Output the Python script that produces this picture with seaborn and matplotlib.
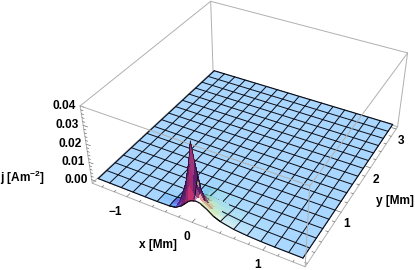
"""Current density peak j(x, y), surface plot."""
import numpy as np
import matplotlib
matplotlib.use('Agg')
import matplotlib.pyplot as plt
import seaborn as sns
from mpl_toolkits.mplot3d import proj3d

sns.set_theme(style='white')
plt.rcParams['font.family'] = ['Liberation Sans', 'DejaVu Sans']
plt.rcParams['mathtext.fontset'] = 'custom'
plt.rcParams['mathtext.rm'] = 'Liberation Sans'
plt.rcParams['mathtext.bf'] = 'Liberation Sans:bold'

# ─── Data ────────────────────────────────────────────────────
x_mesh = [-1.5, -1.3125, -1.125, -0.9375, -0.75, -0.5625, -0.375, -0.1875, 0,
          0.1875, 0.375, 0.5625, 0.75, 0.9375, 1.125, 1.3125, 1.5]
y_mesh = [0, 0.1875, 0.375, 0.5625, 0.75, 0.9375, 1.125, 1.3125, 1.5,
          1.6875, 1.875, 2.0625, 2.25, 2.4375, 2.625, 2.8125, 3]

# finer samples around the peak, j in units of 1e-3 A/m2
x_peak = [-0.5625, -0.375, -0.28, -0.1875, -0.12, -0.08, -0.04, 0, 0.04, 0.09,
          0.1875, 0.28, 0.375, 0.5625, 0.75, 0.9375]
y_peak = [0, 0.04, 0.08, 0.12, 0.1875, 0.28, 0.375, 0.5625]
j_y000 = [0, 0.2, 0.8, 3.0, 5.5, 7.0, 8.0, 8.5, 8.8, 8.5, 6.5, 4.0, 2.5, 1.0, 0.4, 0.1]
j_y004 = [0, 0.2, 1.0, 5.5, 11, 16, 13, 11, 10, 8.0, 5.6, 3.6, 2.3, 0.9, 0.4, 0.1]
j_y008 = [0, 0.3, 1.5, 9.0, 18, 26, 20, 15, 11, 7.5, 4.6, 3.0, 2.1, 0.8, 0.3, 0.1]
j_y012 = [0, 0.3, 2.0, 12, 25, 36, 27, 19, 12, 6.5, 3.6, 2.5, 1.9, 0.7, 0.3, 0.1]
j_y019 = [0, 0.1, 0.8, 5.0, 10, 14, 11, 8.0, 6.0, 4.0, 2.5, 1.8, 1.3, 0.5, 0.2, 0.05]
j_y028 = [0, 0, 0.2, 0.8, 2.0, 3.0, 3.5, 3.0, 2.6, 2.0, 1.5, 1.0, 0.7, 0.3, 0.1, 0]
j_y038 = [0, 0, 0.1, 0.3, 0.7, 1.0, 1.2, 1.1, 1.0, 0.8, 0.6, 0.4, 0.3, 0.1, 0, 0]
j_y056 = [0, 0, 0, 0.05, 0.1, 0.15, 0.2, 0.2, 0.2, 0.15, 0.1, 0.1, 0.05, 0, 0, 0]

x_ticks = [-1, 0, 1]
y_ticks = [1, 2, 3]
z_ticks = [0.00, 0.01, 0.02, 0.03, 0.04]
x_limits = (-1.56, 1.56)
y_limits = (-0.06, 3.06)
z_limits = (-0.002, 0.04)

# ─── Full table on the union of the mesh and peak samples ────
x_nodes = np.array(sorted(set(x_mesh) | set(x_peak)))
y_nodes = np.array(sorted(set(y_mesh) | set(y_peak)))
rows = [j_y000, j_y004, j_y008, j_y012, j_y019, j_y028, j_y038, j_y056]
J = np.zeros((len(y_nodes), len(x_nodes)))
for yv, row in zip(y_peak, rows):
    for xv, val in zip(x_peak, row):
        J[np.searchsorted(y_nodes, yv), np.searchsorted(x_nodes, xv)] = val * 1e-3
X, Y = np.meshgrid(x_nodes, y_nodes)

# ─── Camera ──────────────────────────────────────────────────
ELEV, AZIM, FOCAL, BOX_Z = 36.08, -61.43, 0.4396, 0.4018
SCALE, TX, TY = 1793.2, 251.94, 117.2
W_PX, H_PX = 415, 270

fig = plt.figure(figsize=(W_PX / 100, H_PX / 100), dpi=100)
ax = fig.add_axes([0, 0, 1, 1], projection='3d', computed_zorder=False)
x0, x1 = ax.viewLim.intervalx
y0, y1 = ax.viewLim.intervaly
ax.set_position([(TX + SCALE * x0) / W_PX, (H_PX - TY + SCALE * y0) / H_PX,
                 SCALE * (x1 - x0) / W_PX, SCALE * (y1 - y0) / H_PX])
ax.set_xlim(*x_limits, view_margin=0)
ax.set_ylim(*y_limits, view_margin=0)
ax.set_zlim(*z_limits, view_margin=0)
ax.view_init(ELEV, AZIM)
ax.set_proj_type('persp', focal_length=FOCAL)
ax.set_box_aspect((1, 1, BOX_Z))
ax.set_axis_off()

# ─── Lighting, three coloured lights plus ambient ────────────
PINK = np.array([196, 48, 112]) / 255
PURPLE = np.array([92, 30, 108]) / 255

xb_nodes = (x_nodes - x_limits[0]) / (x_limits[1] - x_limits[0])
yb_nodes = (y_nodes - y_limits[0]) / (y_limits[1] - y_limits[0])
zb_table = (J - z_limits[0]) / (z_limits[1] - z_limits[0]) * BOX_Z
gy, gx = np.gradient(zb_table, yb_nodes, xb_nodes)
normals = np.dstack([-gx, -gy, np.ones_like(gx)])
normals /= np.linalg.norm(normals, axis=2, keepdims=True)


def face_colors(ix, iy):
    """Colours of the cells of the sub grid, from the smoothed normals."""
    n = normals[np.ix_(iy, ix)]
    n = (n[1:, 1:] + n[:-1, :-1] + n[1:, :-1] + n[:-1, 1:]) / 4
    n = n / np.linalg.norm(n, axis=2, keepdims=True)
    el, az = np.radians(ELEV), np.radians(AZIM)
    right = np.array([-np.sin(az), np.cos(az), 0])
    up = np.array([-np.sin(el) * np.cos(az), -np.sin(el) * np.sin(az), np.cos(el)])
    back = np.array([np.cos(el) * np.cos(az), np.cos(el) * np.sin(az), np.sin(el)])
    cam = np.dstack([n @ right, n @ up, n @ back])
    lights = np.array([[1.5, -0.5, 2], [1.5, 1.5, 2], [-0.5, 1.5, 2]], float)
    lights /= np.linalg.norm(lights, axis=1, keepdims=True)
    ambient = np.array([0.312, 0.188, 0.4])
    rgb = ambient + 0.8 * np.clip(cam @ lights.T, 0, None)
    rgb = rgb * np.array([1.2, 1.0, 0.87])
    # steep walls: pink where they face the viewer, purple on the flanks
    steep = np.clip((0.75 - n[..., 2:3]) / 0.45, 0, 1)
    side = np.clip(np.abs(n[..., 0:1]) * 1.5, 0, 1)
    wall = PINK * (1 - side) + PURPLE * side
    rgb = rgb * (1 - steep) + wall * steep
    return np.clip(np.dstack([rgb, np.ones(rgb.shape[:2])]), 0, 1)


def surface(ix, iy, z):
    ax.plot_surface(X[np.ix_(iy, ix)], Y[np.ix_(iy, ix)], J[np.ix_(iy, ix)],
                    facecolors=face_colors(ix, iy), rstride=1, cstride=1,
                    shade=False, linewidth=0, antialiased=False, zorder=z)


def mesh_x(xv, z, ymax=None, lw=0.7):
    i = np.searchsorted(x_nodes, xv)
    keep = y_nodes <= (ymax if ymax is not None else y_nodes[-1])
    ax.plot(X[keep, i], Y[keep, i], J[keep, i], color='#0c0c14', lw=lw, zorder=z,
            solid_capstyle='round', clip_on=False)


def mesh_y(yv, z, xmin=None, xmax=None, lw=0.7):
    i = np.searchsorted(y_nodes, yv)
    lo = x_nodes[0] if xmin is None else xmin
    hi = x_nodes[-1] if xmax is None else xmax
    keep = (x_nodes >= lo) & (x_nodes <= hi)
    ax.plot(X[i, keep], Y[i, keep], J[i, keep], color='#0c0c14', lw=lw, zorder=z,
            solid_capstyle='round', clip_on=False)


# ─── Bounding box ────────────────────────────────────────────
xa, xb = x_limits
ya, yb = y_limits
za, zb = z_limits
BOX = '#b0b0b0'
back_edges = [((xa, yb, za), (xa, yb, zb)), ((xa, ya, za), (xa, yb, za)),
              ((xa, yb, za), (xb, yb, za)), ((xa, ya, zb), (xa, yb, zb)),
              ((xa, yb, zb), (xb, yb, zb)), ((xa, ya, za), (xa, ya, zb)),
              ((xb, yb, za), (xb, yb, zb)), ((xa, ya, za), (xb, ya, za)),
              ((xb, ya, za), (xb, yb, za))]
front_edges = [((xa, ya, zb), (xb, ya, zb)), ((xb, ya, zb), (xb, yb, zb)),
               ((xb, ya, za), (xb, ya, zb))]
for p, q in back_edges:
    ax.plot(*zip(p, q), color=BOX, lw=0.7, zorder=0, clip_on=False)
for p, q in front_edges:
    ax.plot(*zip(p, q), color=BOX, lw=0.7, zorder=2.5, clip_on=False)

# ticks
TICK = '#707070'
for v in np.arange(-1.4, 1.41, 0.2):
    major = abs(v - round(v)) < 1e-6 and round(v) in x_ticks
    ax.plot([v, v], [ya, ya + (0.07 if major else 0.035)], [za, za], color=TICK,
            lw=0.5, zorder=0, clip_on=False)
for v in np.arange(0, 3.01, 0.2):
    major = abs(v - round(v)) < 1e-6 and round(v) in y_ticks
    ax.plot([xb, xb - (0.07 if major else 0.035)], [v, v], [za, za], color=TICK,
            lw=0.5, zorder=0, clip_on=False)
for v in np.arange(0, 0.0401, 0.002):
    major = abs(v * 100 - round(v * 100)) < 1e-6
    ax.plot([xa, xa + (0.07 if major else 0.035)], [ya, ya], [v, v], color=TICK,
            lw=0.5, zorder=0, clip_on=False)

# ─── Surface ─────────────────────────────────────────────────
surface(np.arange(len(x_nodes)), np.arange(len(y_nodes)), 1)
for xv in x_mesh[1:-1]:
    mesh_x(xv, 2)
for yv in y_mesh[1:-1]:
    mesh_y(yv, 2)
for xv in (x_mesh[0], x_mesh[-1]):
    mesh_x(xv, 2, lw=0.85)
mesh_y(y_mesh[0], 2, lw=0.85)
mesh_y(y_mesh[-1], 2, lw=0.85)

# the peak goes over the mesh behind it, its near lines over the peak
ix = np.where((x_nodes >= -0.28) & (x_nodes <= 0.28))[0]
iy = np.where(y_nodes <= 0.375)[0]
surface(ix, iy, 3)
mesh_y(0, 4, xmin=-0.375, xmax=0.375, lw=0.85)
mesh_x(0, 4, ymax=0.12, lw=0.6)
mesh_y(0.12, 4, xmin=-0.28, xmax=0.09, lw=0.45)


# ─── Text ────────────────────────────────────────────────────
def label(txt, p, dx, dy, ha='center'):
    xs, ys, _ = proj3d.proj_transform(p[0], p[1], p[2], ax.get_proj())
    ax.annotate(txt, xy=(xs, ys), xytext=(dx, dy), textcoords='offset pixels',
                ha=ha, va='center', fontsize=8.6, fontweight='bold', color='black',
                annotation_clip=False, zorder=6)


for v in x_ticks:
    label(f'{v}'.replace('-', '\u2212'), (v, ya, za), -12 if v < 0 else -5, -15)
for v in y_ticks:
    label(f'{v}', (xb, v, za), 5, -12)
for v in z_ticks:
    label(f'{v:.2f}', (xa, ya, v), -4, 0, ha='right')

fig.text(158 / W_PX, 1 - 245 / H_PX, 'x [Mm]', ha='center', va='center',
         fontsize=8.6, fontweight='bold', color='black')
fig.text(395 / W_PX, 1 - 201 / H_PX, 'y [Mm]', ha='center', va='center',
         fontsize=8.6, fontweight='bold', color='black')
fig.text(23 / W_PX, 1 - 178 / H_PX, r'j [Am$^{\mathbf{-2}}$]', ha='center', va='center',
         fontsize=8.6, fontweight='bold', color='black')

fig.savefig('out.png', dpi=100)
plt.close(fig)
